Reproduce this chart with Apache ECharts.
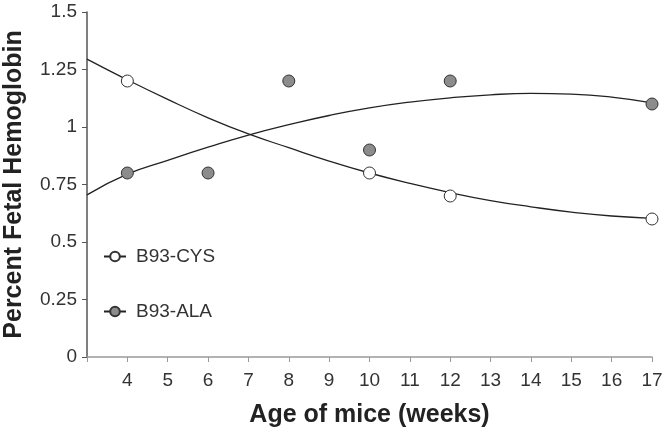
<!DOCTYPE html>
<html>
<head>
<meta charset="utf-8">
<script src="https://cdn.jsdelivr.net/npm/echarts@6/dist/echarts.min.js"></script>
<style>html,body{margin:0;padding:0;background:#fff;}#c{width:668px;height:432px;}</style>
</head>
<body>
<div id="c"></div>
<script>
// Observed data points
var cysWeeks = [4, 10, 12, 17];
var cysValues = [1.2, 0.8, 0.7, 0.6];
var alaWeeks = [4, 6, 8, 10, 12, 17];
var alaValues = [0.8, 0.8, 1.2, 0.9, 1.2, 1.1];
// Trend curves
var curveWeeks = [3, 4, 5, 6, 7, 8, 9, 10, 11, 12, 13, 14, 15, 16, 17];
var cysCurve = [1.295, 1.205, 1.12, 1.04, 0.97, 0.91, 0.852, 0.80, 0.755, 0.715, 0.68, 0.653, 0.63, 0.613, 0.603];
var alaCurve = [0.705, 0.795, 0.855, 0.912, 0.965, 1.01, 1.05, 1.083, 1.108, 1.127, 1.14, 1.146, 1.143, 1.13, 1.105];

function pairs(xs, ys) { return xs.map(function (x, i) { return [x, ys[i]]; }); }

var font = 'Liberation Sans, Arial, sans-serif';
var chart = echarts.init(document.getElementById('c'), null, {renderer: 'canvas'});
chart.setOption({
  animation: false,
  backgroundColor: '#fff',
  grid: {left: 87, right: 16, top: 12, bottom: 75, containLabel: false, outerBoundsMode: 'none'},
  legend: {
    orient: 'vertical', left: 103, top: 247, padding: 0, itemGap: 36, itemWidth: 22, itemHeight: 12,
    data: ['B93-CYS', 'B93-ALA'],
    textStyle: {fontFamily: font, fontSize: 19, color: '#333', padding: [0, 0, 0, 5]}
  },
  xAxis: {
    type: 'value', min: 3, max: 17, interval: 1,
    name: 'Age of mice (weeks)', nameLocation: 'middle', nameGap: 46,
    nameTextStyle: {fontFamily: font, fontSize: 25, fontWeight: 'bold', color: '#222'},
    axisLine: {show: true, lineStyle: {color: '#999', width: 1.5}},
    axisTick: {show: true, length: 5, lineStyle: {color: '#999'}},
    splitLine: {show: false},
    axisLabel: {fontFamily: font, fontSize: 19, color: '#333', margin: 14,
      formatter: function (v) { return v === 3 ? '' : String(v); }}
  },
  yAxis: {
    type: 'value', min: 0, max: 1.5, interval: 0.25,
    name: 'Percent Fetal Hemoglobin', nameLocation: 'middle', nameGap: 60,
    nameTextStyle: {fontFamily: font, fontSize: 25, fontWeight: 'bold', color: '#222'},
    axisLine: {show: true, lineStyle: {color: '#555', width: 1.5}},
    axisTick: {show: true, length: 5, lineStyle: {color: '#555'}},
    splitLine: {show: false},
    axisLabel: {fontFamily: font, fontSize: 19, color: '#333', margin: 10}
  },
  series: [
    {name: 'B93-CYS', type: 'line', smooth: true, showSymbol: false, symbol: 'circle', symbolSize: 12,
     data: pairs(curveWeeks, cysCurve), lineStyle: {color: '#222', width: 1.3},
     itemStyle: {color: '#fff', borderColor: '#333', borderWidth: 1}, z: 2},
    {name: 'B93-ALA', type: 'line', smooth: true, showSymbol: false, symbol: 'circle', symbolSize: 12,
     data: pairs(curveWeeks, alaCurve), lineStyle: {color: '#222', width: 1.3},
     itemStyle: {color: '#8c8c8c', borderColor: '#333', borderWidth: 1}, z: 2},
    {name: 'B93-CYS', type: 'scatter', symbol: 'circle', symbolSize: 12, data: pairs(cysWeeks, cysValues),
     itemStyle: {color: '#fff', borderColor: '#333', borderWidth: 1, opacity: 1}, z: 3},
    {name: 'B93-ALA', type: 'scatter', symbol: 'circle', symbolSize: 12, data: pairs(alaWeeks, alaValues),
     itemStyle: {color: '#8c8c8c', borderColor: '#333', borderWidth: 1, opacity: 1}, z: 3}
  ]
});
</script>
</body>
</html>
